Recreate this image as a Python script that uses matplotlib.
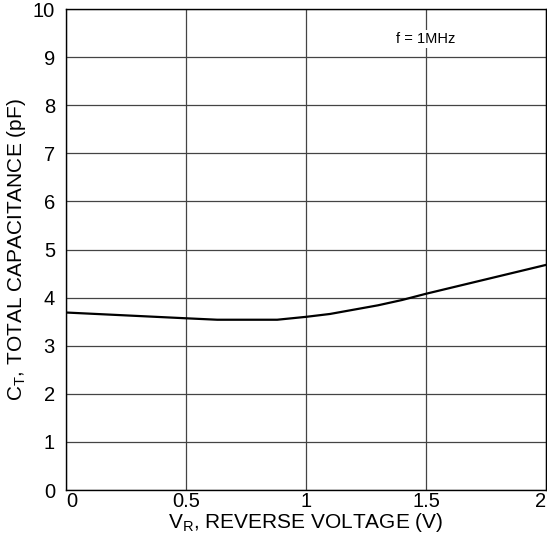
import numpy as np
import matplotlib.pyplot as plt

plt.rcParams['font.family'] = ['Liberation Sans', 'DejaVu Sans']

# reverse voltage (V) vs total capacitance (pF)
vr = [0.0, 0.25, 0.5, 0.63, 0.88, 1.0, 1.1, 1.2, 1.3, 1.4, 1.5, 1.75, 2.0]
ct = [3.69, 3.63, 3.57, 3.54, 3.54, 3.60, 3.66, 3.75, 3.84, 3.95, 4.08, 4.38, 4.68]

xticks = [0, 0.5, 1, 1.5, 2]
xticklabels = ['0', '0.5', '1', '1.5', '2']
yticks = list(range(0, 11))

fig = plt.figure(figsize=(5.47, 5.43), dpi=100)
ax = fig.add_axes([0.1207, 0.0976, 0.8775, 0.8858])

ax.plot(vr, ct, color='black', lw=1.6, zorder=3)

ax.set_xlim(0, 2)
ax.set_ylim(0, 10)
ax.set_xticks(xticks)
ax.set_xticklabels(xticklabels)
ax.set_yticks(yticks)
ax.grid(True, color='#444444', lw=0.9)
ax.tick_params(length=0, labelsize=14.5)
ax.tick_params(axis='x', pad=1.5)
ax.tick_params(axis='y', pad=8)
for s in ax.spines.values():
    s.set_linewidth(1.0)
    s.set_color('black')

# end labels sit inside the axis span, like the original
xl = ax.get_xticklabels()
xl[0].set_ha('left')
xl[-1].set_ha('right')

ax.set_xlabel('V$_\\mathregular{R}$, REVERSE VOLTAGE (V)', fontsize=15, labelpad=0)
ax.set_ylabel('C$_\\mathregular{T}$, TOTAL CAPACITANCE (pF)', fontsize=15, labelpad=3)

ax.text(1.5, 9.38, 'f = 1MHz', fontsize=10.5, ha='center', va='center',
        bbox=dict(facecolor='white', edgecolor='none', pad=1.5), zorder=4)

fig.savefig('out.png', dpi=100)
